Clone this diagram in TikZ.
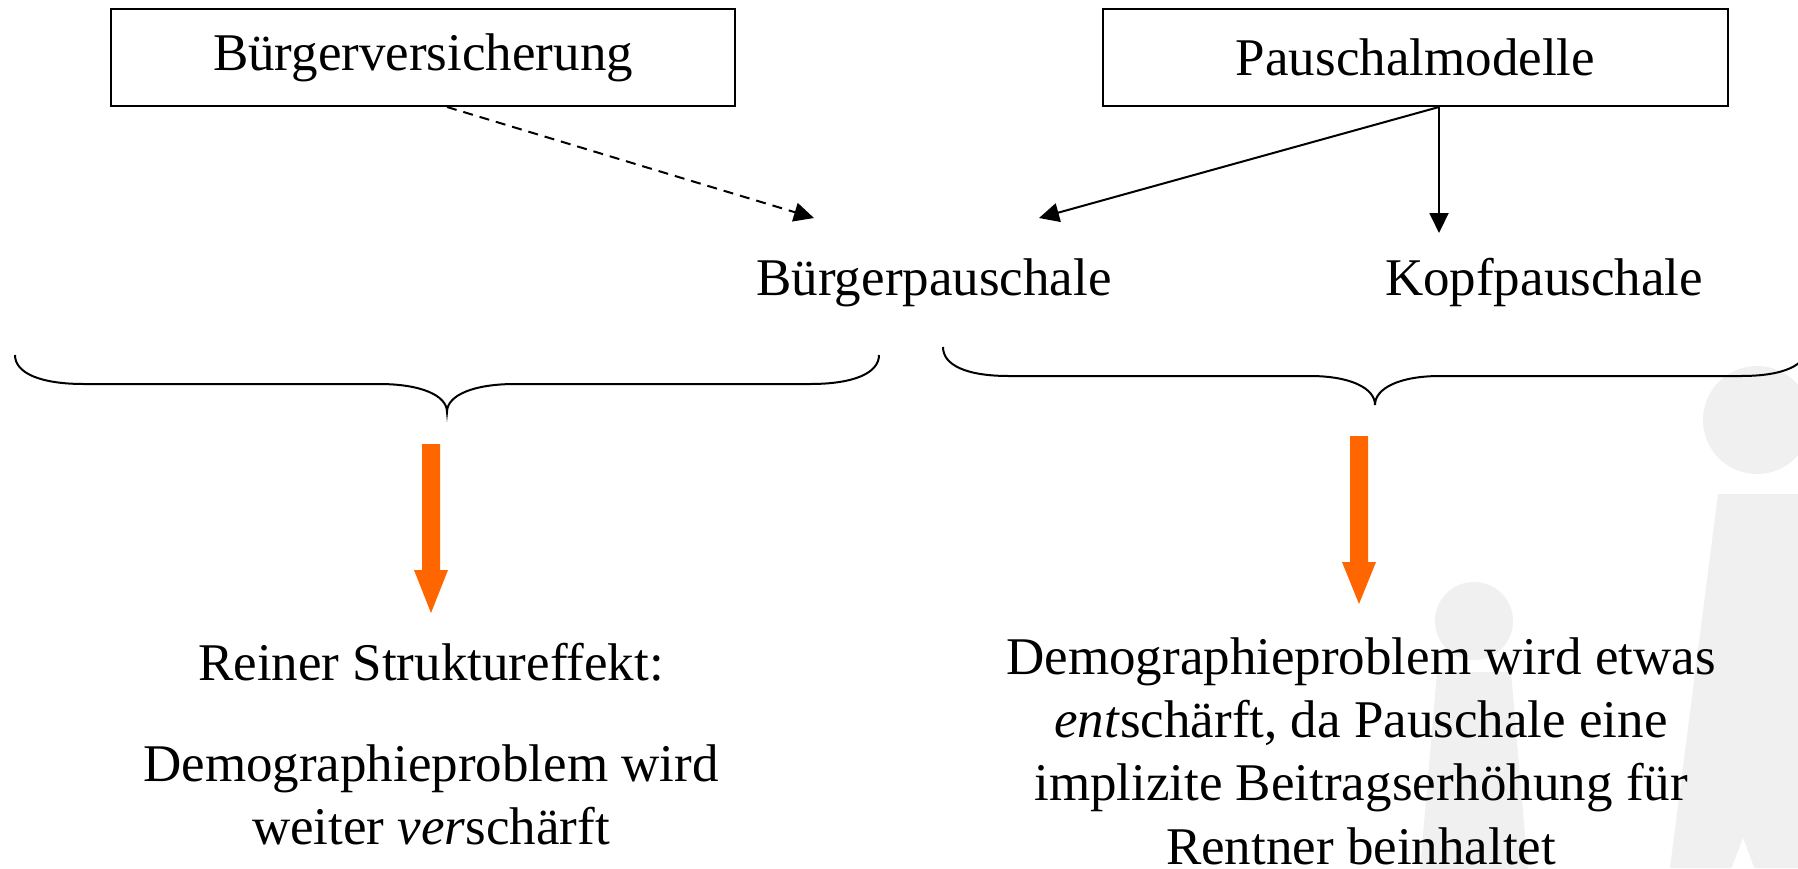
\documentclass[tikz,border=0pt]{standalone}
\usepackage{fontspec}
\setmainfont{Liberation Serif}
\usetikzlibrary{arrows.meta,calc}
\definecolor{wm}{RGB}{240,240,240}
\definecolor{orangec}{RGB}{255,102,0}
\begin{document}
\begin{tikzpicture}[x=0.5pt,y=-0.5pt,
  lbl/.style={font=\fontsize{26.5}{31.7}\selectfont, inner sep=0pt},
  boxnode/.style={draw, line width=1pt, font=\fontsize{26.5}{31.7}\selectfont, minimum height=48.5pt, inner sep=0pt},
  conn/.style={line width=1pt, -{Triangle[length=10pt,width=9.5pt]}},
  dashconn/.style={conn, dash pattern=on 5pt off 3.5pt},
  brace/.style={line width=1pt},
  bigarrow/.style={fill=orangec}
]
\useasboundingbox (0,0) rectangle (1798,868);
\fill[white] (0,0) rectangle (1798,868);
% watermark
\begin{scope}
\clip (0,0) rectangle (1798,868);
\fill[wm] (1757,420) circle[radius=27pt];
\fill[wm] (1718,494) -- (1810,494) -- (1810,868) -- (1670,868) -- cycle;
\fill[white] (1731,870) -- (1743,838) -- (1755,870) -- cycle;
\fill[wm] (1474,621) circle[radius=19.5pt];
\fill[wm] (1437,672) -- (1511,672) -- (1528,870) -- (1420,870) -- cycle;
\end{scope}

% boxes
\node[boxnode, minimum width=312pt] (bv) at (423,57.5) {Bürgerversicherung};
\node[boxnode, minimum width=312.5pt] (pm) at (1415.5,57.5) {Pauschalmodelle};

% labels
\node[lbl, anchor=base] (bp) at (934,295) {Bürgerpauschale};
\node[lbl, anchor=base] (kp) at (1544,295) {Kopfpauschale};

% connector ends
\coordinate (bvout) at ($(bv.south)+(24,0)$);
\coordinate (pmout) at ($(pm.south)+(23.5,0)$);
\coordinate (bpin1) at (814,218);
\coordinate (bpin2) at (1039,218);
\coordinate (kpin) at (1439,233);

\draw[dashconn] (bvout) -- (bpin1);
\draw[conn] (pmout) -- (bpin2);
\draw[conn] (pmout) -- (kpin);

% braces
\draw[brace] (15,355) .. controls (15,373) and (40,384) .. (84,384) -- (379,384)
  .. controls (420,384) and (447,395) .. (447,412)
  .. controls (447,395) and (474,384) .. (515,384) -- (810,384)
  .. controls (854,384) and (879,373) .. (879,355);
\draw[brace] (943,347) .. controls (943,365) and (966,376) .. (1009,376) -- (1310,376)
  .. controls (1350,376) and (1375,388) .. (1375,405)
  .. controls (1375,388) and (1400,376) .. (1440,376) -- (1741,376)
  .. controls (1784,376) and (1807,365) .. (1807,347);

% orange arrows
\coordinate (la) at (431,444);
\coordinate (ra) at (1359,436);
\fill[bigarrow, shift={(la)}] (-9,0) -- (9,0) -- (9,126) -- (17,126) -- (0,169) -- (-17,126) -- (-9,126) -- cycle;
\fill[bigarrow, shift={(ra)}] (-9,0) -- (9,0) -- (9,126) -- (17,126) -- (0,168) -- (-17,126) -- (-9,126) -- cycle;

% bottom texts
\node[lbl, anchor=base] (rs) at (431,680) {Reiner Struktureffekt:};
\node[lbl, align=center] (lt) at (431,794.6) {Demographieproblem wird\\weiter \textit{ver}schärft};
\node[lbl, align=center] (rt) at (1361,751) {Demographieproblem wird etwas\\\textit{ent}schärft, da Pauschale eine\\implizite Beitragserhöhung für\\Rentner beinhaltet};
\end{tikzpicture}
\end{document}
